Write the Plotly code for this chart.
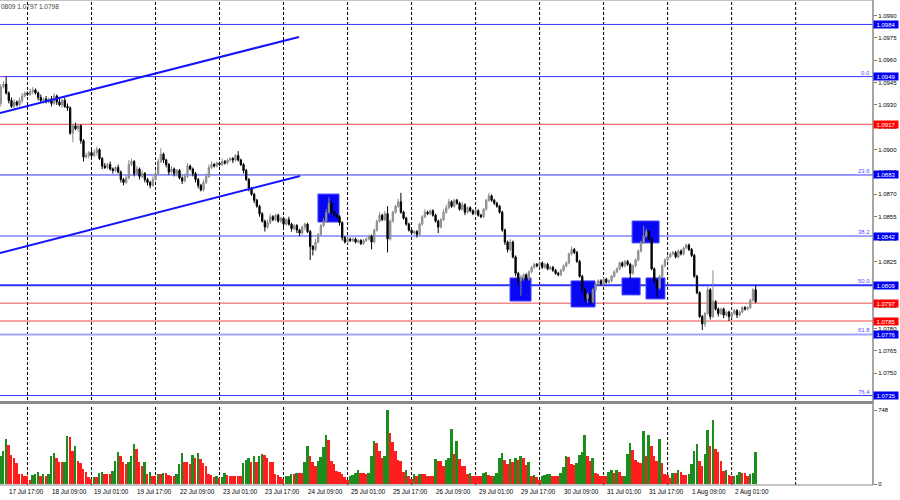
import plotly.graph_objects as go

# ---------------- data (H1 bars, index 0 = 17 Jul 15:00 ... 283 = 2 Aug 10:00) ----------------
first_open = 1.0931
close = [
    1.0942, 1.0944, 1.0938, 1.0933, 1.0929, 1.0932, 1.0930, 1.0933, 1.0936, 1.0938,
    1.0937, 1.0939, 1.0940, 1.0938, 1.0935, 1.0933, 1.0934, 1.0932, 1.0934, 1.0931,
    1.0936, 1.0932, 1.0930, 1.0933, 1.0929, 1.0928, 1.0911, 1.0916, 1.0914, 1.0916,
    1.0906, 1.0895, 1.0896, 1.0898, 1.0896, 1.0898, 1.0900, 1.0894, 1.0889, 1.0888,
    1.0890, 1.0887, 1.0886, 1.0888, 1.0885, 1.0880, 1.0878, 1.0881, 1.0890, 1.0892,
    1.0884, 1.0887, 1.0882, 1.0884, 1.0880, 1.0878, 1.0876, 1.0880, 1.0884, 1.0892,
    1.0897, 1.0893, 1.0890, 1.0885, 1.0887, 1.0884, 1.0886, 1.0881, 1.0879, 1.0882,
    1.0889, 1.0887, 1.0884, 1.0880, 1.0876, 1.0873, 1.0878, 1.0882, 1.0888, 1.0890,
    1.0889, 1.0891, 1.0890, 1.0892, 1.0891, 1.0893, 1.0894, 1.0893, 1.0896, 1.0893,
    1.0890, 1.0886, 1.0880, 1.0874, 1.0870, 1.0866, 1.0862, 1.0857, 1.0852, 1.0848,
    1.0851, 1.0855, 1.0853, 1.0856, 1.0852, 1.0854, 1.0850, 1.0853, 1.0850, 1.0847,
    1.0849, 1.0846, 1.0844, 1.0848, 1.0850, 1.0845, 1.0835, 1.0833, 1.0838, 1.0843,
    1.0849, 1.0852, 1.0858, 1.0864, 1.0858, 1.0856, 1.0855, 1.0851, 1.0841, 1.0838,
    1.0840, 1.0839, 1.0840, 1.0838, 1.0839, 1.0837, 1.0839, 1.0840, 1.0842, 1.0838,
    1.0846, 1.0852, 1.0856, 1.0853, 1.0857, 1.0840, 1.0852, 1.0858, 1.0862, 1.0865,
    1.0858, 1.0854, 1.0850, 1.0846, 1.0844, 1.0845, 1.0843, 1.0850, 1.0855, 1.0858,
    1.0857, 1.0859, 1.0856, 1.0852, 1.0848, 1.0853, 1.0858, 1.0861, 1.0865, 1.0862,
    1.0866, 1.0864, 1.0860, 1.0863, 1.0858, 1.0861, 1.0859, 1.0857, 1.0859, 1.0856,
    1.0855, 1.0860, 1.0866, 1.0869, 1.0866, 1.0864, 1.0862, 1.0858, 1.0846, 1.0838,
    1.0833, 1.0838, 1.0828, 1.0817, 1.0812, 1.0814, 1.0816, 1.0813, 1.0818, 1.0821,
    1.0823, 1.0822, 1.0824, 1.0821, 1.0823, 1.0820, 1.0821, 1.0819, 1.0817, 1.0816,
    1.0819, 1.0822, 1.0824, 1.0830, 1.0833, 1.0831, 1.0825, 1.0815, 1.0806, 1.0800,
    1.0803, 1.0798, 1.0806, 1.0810, 1.0812, 1.0810, 1.0813, 1.0811, 1.0812, 1.0815,
    1.0818, 1.0820, 1.0824, 1.0822, 1.0825, 1.0823, 1.0817, 1.0822, 1.0826, 1.0832,
    1.0838, 1.0842, 1.0845, 1.0840, 1.0820, 1.0812, 1.0807, 1.0815, 1.0822, 1.0826,
    1.0828, 1.0830, 1.0831, 1.0828, 1.0832, 1.0830, 1.0834, 1.0836, 1.0833, 1.0829,
    1.0815, 1.0804, 1.0788, 1.0783, 1.0790, 1.0806, 1.0788, 1.0798, 1.0793, 1.0790,
    1.0793, 1.0789, 1.0791, 1.0788, 1.0790, 1.0792, 1.0789, 1.0791, 1.0794, 1.0793,
    1.0794, 1.0799, 1.0806, 1.0798,
]
# wick lengths in pips above / below the candle body
upper_wick = [
    2, 2, 5, 1, 2, 2, 1, 2, 2, 1,  1, 2, 2, 1, 1, 2, 1, 2, 1, 2,
    2, 1, 2, 1, 2, 2, 1, 1, 2, 1,  1, 1, 2, 1, 2, 2, 2, 1, 1, 2,
    1, 2, 1, 1, 2, 1, 1, 2, 3, 2,  1, 2, 1, 2, 1, 1, 1, 2, 2, 2,
    4, 1, 1, 1, 2, 1, 1, 1, 1, 2,  2, 1, 1, 1, 1, 1, 2, 2, 2, 2,
    1, 1, 1, 2, 1, 1, 1, 1, 1, 3,  1, 1, 1, 1, 1, 1, 1, 1, 1, 1,
    2, 2, 1, 1, 1, 1, 1, 1, 2, 1,  1, 1, 1, 1, 1, 1, 1, 1, 2, 1,
    1, 2, 2, 4, 2, 1, 1, 1, 1, 1,  1, 1, 1, 1, 1, 1, 1, 1, 1, 1,
    1, 1, 2, 1, 2, 5, 1, 1, 1, 2,  6, 1, 1, 1, 1, 1, 1, 1, 1, 2,
    1, 1, 1, 1, 1, 1, 2, 2, 2, 1,  1, 1, 1, 2, 1, 1, 1, 1, 1, 1,
    1, 1, 1, 2, 1, 1, 1, 1, 1, 1,  1, 2, 1, 1, 1, 2, 1, 1, 1, 1,
    1, 1, 1, 1, 1, 1, 1, 1, 1, 1,  1, 1, 1, 1, 2, 1, 1, 1, 1, 1,
    1, 1, 1, 1, 1, 1, 1, 1, 1, 1,  1, 1, 1, 1, 1, 1, 1, 1, 1, 1,
    1, 7, 2, 1, 1, 1, 1, 1, 1, 1,  1, 1, 1, 1, 1, 1, 1, 1, 1, 1,
    1, 1, 1, 1, 1, 2, 1, 21, 1, 1, 1, 1, 1, 1, 1, 1, 1, 1, 1, 1,
    1, 1, 1, 3,
]
lower_wick = [
    2, 1, 1, 2, 1, 2, 1, 1, 2, 1,  1, 1, 2, 1, 2, 1, 2, 1, 1, 2,
    1, 2, 1, 2, 1, 2, 1, 6, 1, 2,  2, 3, 1, 2, 1, 1, 2, 1, 2, 1,
    1, 1, 2, 1, 1, 2, 2, 1, 1, 1,  2, 1, 2, 1, 2, 2, 2, 1, 1, 1,
    1, 2, 2, 2, 1, 2, 2, 1, 2, 1,  1, 1, 2, 2, 2, 1, 1, 1, 1, 1,
    1, 1, 1, 1, 1, 1, 1, 2, 1, 1,  1, 2, 1, 2, 1, 2, 1, 2, 1, 3,
    1, 1, 1, 1, 1, 1, 2, 1, 1, 2,  1, 2, 2, 1, 2, 1, 9, 4, 1, 1,
    1, 1, 1, 1, 1, 1, 1, 2, 2, 1,  1, 1, 1, 1, 1, 1, 1, 1, 1, 5,
    1, 1, 1, 1, 1, 9, 1, 1, 1, 1,  1, 1, 1, 1, 1, 1, 2, 1, 1, 1,
    1, 1, 1, 1, 4, 1, 1, 1, 1, 1,  1, 1, 1, 1, 2, 1, 1, 1, 1, 1,
    1, 1, 1, 1, 1, 1, 1, 1, 1, 2,  2, 1, 1, 2, 3, 10, 2, 1, 1, 1,
    1, 1, 1, 1, 1, 1, 1, 1, 1, 1,  1, 1, 1, 1, 1, 1, 1, 1, 2, 2,
    3, 2, 1, 1, 1, 1, 1, 1, 1, 1,  1, 1, 1, 1, 1, 1, 4, 1, 1, 1,
    1, 1, 1, 1, 1, 2, 6, 1, 1, 1,  1, 1, 1, 1, 1, 1, 1, 1, 1, 1,
    1, 1, 1, 4, 2, 1, 2, 1, 1, 2,  1, 2, 1, 3, 1, 1, 2, 1, 1, 1,
    1, 1, 1, 1,
]
volume = [
    286, 337, 455, 398, 293, 260, 212, 101, 101, 78,
    78, 44, 91, 98, 118, 84, 104, 84, 101, 280,
    310, 260, 226, 219, 226, 482, 479, 337, 381, 233,
    209, 148, 121, 71, 51, 71, 71, 111, 125, 98,
    98, 98, 135, 229, 320, 286, 219, 202, 219, 280,
    401, 354, 226, 185, 226, 101, 118, 84, 78, 98,
    98, 111, 111, 91, 84, 84, 101, 199, 313, 226,
    219, 199, 293, 266, 310, 253, 212, 179, 98, 91,
    67, 84, 57, 67, 111, 91, 84, 78, 78, 78,
    78, 212, 246, 260, 226, 286, 226, 286, 303, 293,
    260, 226, 226, 98, 91, 67, 51, 78, 84, 98,
    98, 111, 111, 111, 219, 381, 286, 226, 185, 233,
    273, 371, 495, 441, 233, 202, 135, 125, 101, 74,
    44, 78, 91, 111, 138, 111, 111, 98, 111, 280,
    435, 414, 337, 260, 286, 748, 515, 428, 334, 243,
    236, 125, 145, 78, 51, 101, 78, 101, 101, 101,
    84, 84, 78, 253, 233, 233, 185, 239, 260, 556,
    303, 438, 253, 185, 185, 101, 111, 78, 78, 78,
    78, 111, 125, 91, 78, 84, 111, 260, 313, 243,
    202, 253, 219, 266, 246, 286, 266, 192, 226, 84,
    91, 67, 44, 78, 91, 101, 104, 84, 78, 78,
    111, 168, 286, 270, 202, 192, 212, 293, 327, 495,
    280, 236, 260, 111, 104, 84, 84, 84, 118, 145,
    111, 145, 125, 78, 84, 303, 411, 347, 246, 226,
    212, 536, 280, 495, 381, 280, 236, 455, 212, 101,
    91, 57, 111, 111, 142, 125, 91, 91, 101, 202,
    337, 404, 236, 185, 303, 546, 388, 647, 354, 327,
    233, 135, 142, 91, 78, 84, 91, 125, 111, 111,
    84, 98, 111, 320,
]

time_label_bars = [2, 18, 34, 50, 66, 82, 98, 114, 130, 146, 162, 178, 194, 210, 226, 242, 258, 274]
time_labels = ["17 Jul 17:00", "18 Jul 09:00", "19 Jul 01:00", "19 Jul 17:00", "22 Jul 09:00",
               "23 Jul 01:00", "23 Jul 17:00", "24 Jul 09:00", "25 Jul 01:00", "25 Jul 17:00",
               "26 Jul 09:00", "29 Jul 01:00", "29 Jul 17:00", "30 Jul 09:00", "31 Jul 01:00",
               "31 Jul 17:00", "1 Aug 09:00", "2 Aug 01:00"]
grid_bars = [10, 34, 58, 82, 106, 130, 154, 178, 202, 226, 250, 274, 298]

price_ticks = [1.0990, 1.0975, 1.0960, 1.0945, 1.0930, 1.0915, 1.0900, 1.0885, 1.0870,
               1.0855, 1.0840, 1.0825, 1.0810, 1.0795, 1.0780, 1.0765, 1.0750, 1.0735]
volume_ticks = [0, 748]

# horizontal levels: price, colour, width, tag colour
level_prices = [1.0984, 1.0949, 1.0917, 1.0883, 1.0842, 1.0809, 1.0797, 1.0785, 1.0776, 1.0735]
level_colors = ["#3535ff", "#3535ff", "#f04848", "#3535ff", "#a3a3ff", "#3030ff", "#e85050", "#f04848", "#a3a3ff", "#3535ff"]
level_widths = [1, 1, 1, 1, 2, 2, 1, 1, 2, 1]
tag_colors = ["#0000ee", "#0000ee", "#ff0000", "#0000ee", "#0000ee", "#0000ee", "#ff0000", "#ff0000", "#0000ee", "#0000ee"]
fib_prices = [1.0949, 1.0883, 1.0842, 1.0809, 1.0776, 1.0735]
fib_texts = ["0.0", "23.6", "38.2", "50.0", "61.8", "76.4"]

# trend lines (bar index, price)
trend_upper = [(-0.3, 1.09246), (111.8, 1.09756)]
trend_lower = [(-0.3, 1.08306), (112.2, 1.08823)]

# marked zones (bar from, bar to, price low, price high)
zones = [
    (118.9, 126.8, 1.08514, 1.08702),
    (190.9, 198.8, 1.07984, 1.08139),
    (213.8, 222.8, 1.07944, 1.08119),
    (232.9, 239.7, 1.08025, 1.08139),
    (236.7, 246.8, 1.08374, 1.08521),
    (241.9, 249.0, 1.07998, 1.08139),
]

header_text = "0809 1.0797 1.0798"

# ---------------- build ----------------
n = len(close)
bars = list(range(n))
opens = [first_open] + close[:-1]
highs = [max(o, c) + u * 0.0001 for o, c, u in zip(opens, close, upper_wick)]
lows = [min(o, c) - d * 0.0001 for o, c, d in zip(opens, close, lower_wick)]
vol_colors = ["#1c8c1c"] + ["#1c8c1c" if volume[i] > volume[i - 1] else "#ff1e1e" for i in range(1, n)]

P_RANGE = [1.07320, 1.10004]
V_RANGE = [-10, 800]
MAIN_DOM = [85 / 485, 1.0]
VOL_DOM = [0, 80 / 485]

fig = go.Figure()

fig.add_trace(go.Candlestick(
    x=bars, open=opens, high=highs, low=lows, close=close,
    increasing=dict(line=dict(color="#8a8a8a", width=1), fillcolor="#a8a8a8"),
    decreasing=dict(line=dict(color="#000000", width=1), fillcolor="#000000"),
    whiskerwidth=0, xaxis="x", yaxis="y", hoverinfo="skip",
))

fig.add_trace(go.Bar(
    x=bars, y=volume, marker=dict(color=vol_colors, line=dict(width=0)),
    width=0.72, xaxis="x", yaxis="y2", hoverinfo="skip",
))

for (a, b) in [trend_upper, trend_lower]:
    fig.add_trace(go.Scatter(x=[a[0], b[0]], y=[a[1], b[1]], mode="lines",
                             line=dict(color="#1414ff", width=2), xaxis="x", yaxis="y",
                             hoverinfo="skip"))

shapes = []
# vertical dashed grid
for g in grid_bars:
    for dom in (MAIN_DOM, VOL_DOM):
        shapes.append(dict(type="line", xref="x", yref="paper", x0=g, x1=g, y0=dom[0], y1=dom[1],
                           line=dict(color="#000000", width=1, dash="3px,2px"), layer="below"))
# horizontal levels
for p, c, w in zip(level_prices, level_colors, level_widths):
    shapes.append(dict(type="line", xref="paper", yref="y", x0=0, x1=1, y0=p, y1=p,
                       line=dict(color=c, width=w), layer="below"))
# small fib base marker
shapes.append(dict(type="line", xref="x", yref="y", x0=-0.3, x1=2, y0=1.0949, y1=1.0949,
                   line=dict(color="#b050d0", width=1, dash="dot"), layer="below"))
# zones
for x0, x1, y0, y1 in zones:
    shapes.append(dict(type="rect", xref="x", yref="y", x0=x0, x1=x1, y0=y0, y1=y1,
                       fillcolor="#0808f4", line=dict(color="#4a4aff", width=1), layer="below"))
# separators / borders
shapes.append(dict(type="rect", xref="paper", yref="paper", x0=0, x1=1,
                   y0=(485 - 404) / 485, y1=(485 - 401) / 485,
                   fillcolor="#8a8a8a", line=dict(width=0)))
shapes.append(dict(type="line", xref="paper", yref="paper", x0=1, x1=1, y0=0, y1=1,
                   line=dict(color="#8a8a8a", width=1.5)))
shapes.append(dict(type="line", xref="paper", yref="paper", x0=0, x1=1, y0=0, y1=0,
                   line=dict(color="#8a8a8a", width=1)))
shapes.append(dict(type="line", xref="paper", yref="paper", x0=0, x1=1, y0=1, y1=1,
                   line=dict(color="#8a8a8a", width=1)))

annotations = []
for b, t in zip(time_label_bars, time_labels):
    annotations.append(dict(x=b, xref="x", y=0, yref="paper", text=t, showarrow=False,
                            xanchor="left", yanchor="top", xshift=1, yshift=-1,
                            font=dict(size=6.3, family="Liberation Sans", color="#000000")))
for p, c in zip(level_prices, tag_colors):
    annotations.append(dict(x=1, xref="paper", y=p, yref="y", text=f"{p:.4f}", showarrow=False,
                            xanchor="left", yanchor="middle", xshift=0, width=24, height=7,
                            bgcolor=c, borderpad=0,
                            font=dict(size=6, family="Liberation Sans", color="#ffffff")))
for p, t in zip(fib_prices, fib_texts):
    annotations.append(dict(x=1, xref="paper", y=p, yref="y", text=t, showarrow=False,
                            xanchor="right", yanchor="bottom", xshift=-1, yshift=-1,
                            font=dict(size=6, family="Liberation Sans", color="#5050ff")))
annotations.append(dict(x=0, xref="paper", y=1, yref="paper", text=header_text, showarrow=False,
                        xanchor="left", yanchor="top", xshift=-1, yshift=-1,
                        font=dict(size=6.5, family="Liberation Sans", color="#404040")))

axis_font = dict(size=6, family="Liberation Sans", color="#000000")
fig.update_layout(
    width=900, height=500,
    margin=dict(l=0, r=27, t=0, b=15, pad=0, autoexpand=False),
    paper_bgcolor="#ffffff", plot_bgcolor="#ffffff",
    showlegend=False, bargap=0, hovermode=False,
    xaxis=dict(range=[-0.3, 327.0], anchor="y2", showgrid=False, zeroline=False,
               showticklabels=False, showline=False, ticks="", automargin=False,
               rangeslider=dict(visible=False)),
    yaxis=dict(domain=MAIN_DOM, range=P_RANGE, side="right", anchor="x", automargin=False,
               tickvals=price_ticks, ticktext=[f"{v:.4f}" for v in price_ticks],
               showgrid=False, zeroline=False, showline=False,
               ticks="outside", ticklen=3, tickcolor="#808080", tickfont=axis_font),
    yaxis2=dict(domain=VOL_DOM, range=V_RANGE, side="right", anchor="x", automargin=False,
                tickvals=volume_ticks, ticktext=[str(v) for v in volume_ticks],
                showgrid=False, zeroline=False, showline=False,
                ticks="outside", ticklen=3, tickcolor="#808080", tickfont=axis_font),
    shapes=shapes, annotations=annotations,
)

fig.write_html("out.html", config={"displayModeBar": False},
               post_script="document.body.style.margin='0';document.body.style.padding='0';")
